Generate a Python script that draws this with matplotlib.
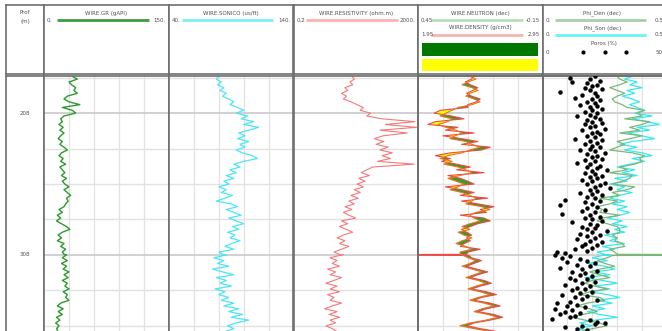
import numpy as np
import matplotlib.pyplot as plt
from matplotlib.ticker import LogLocator

# depth samples (m): every 2 m, denser around the bad-hole spike at 308 m
depth = np.concatenate([np.arange(182, 307, 2), [307.6, 308, 308.4], np.arange(310, 363, 2)])

gr = [34, 40, 30, 33, 38, 36, 40, 28, 24, 30,
      43, 22, 34, 38, 24, 20, 22, 18, 23, 19,
      24, 20, 17, 22, 19, 24, 28, 21, 18, 23,
      20, 26, 19, 22, 25, 21, 27, 22, 25, 30,
      24, 28, 32, 27, 29, 26, 24, 18, 22, 16,
      20, 15, 21, 27, 31, 22, 17, 21, 16, 24,
      20, 26, 22, 24, 27, 26, 22, 28, 21, 27, 23, 30,
      24, 29, 22, 28, 25, 30, 23, 28, 26, 30,
      20, 16, 23, 17, 22, 15, 19, 14, 18, 15,
      17]

dt = [80, 78, 82, 79, 84, 81, 86, 83, 88, 92,
      89, 95, 100, 94, 103, 98, 108, 100, 112, 104,
      96, 101, 95, 104, 97, 101, 94, 99, 107, 111,
      100, 92, 97, 89, 94, 86, 92, 84, 88, 80,
      86, 82, 91, 85, 78, 90, 95, 86, 92, 98,
      88, 94, 100, 91, 96, 87, 93, 89, 97, 90,
      85, 92, 80, 83, 86, 84, 76, 84, 79, 88, 75, 83,
      92, 78, 86, 81, 90, 77, 85, 80, 88, 82,
      92, 84, 96, 88, 99, 90, 104, 94, 87, 92,
      85]

res = [15, 18, 13, 16, 9, 11, 7, 10, 8, 14,
       22, 35, 28, 60, 45, 140, 1600, 180, 1800, 120,
       900, 150, 80, 160, 90, 220, 120, 300, 140, 260,
       100, 1500, 70, 45, 30, 55, 25, 40, 22, 35,
       18, 28, 14, 24, 12, 18, 9, 15, 8, 12,
       20, 7, 11, 6, 10, 16, 8, 5, 9, 6,
       12, 7, 4, 6, 8, 6, 3, 5, 3.5, 6, 2.5, 4.5,
       3, 7, 4, 2.2, 5, 3, 6, 2.5, 4, 3,
       7, 3.5, 2, 5, 2.8, 6, 3, 4.5, 2.2, 3.5,
       5]

nphi = [0.200, 0.171, 0.209, 0.238, 0.190, 0.161, 0.200, 0.219, 0.180, 0.151,
        0.190, 0.257, 0.286, 0.315, 0.344, 0.286, 0.306, 0.354, 0.315, 0.267,
        0.238, 0.271, 0.296, 0.219, 0.190, 0.151, 0.200, 0.238, 0.306, 0.344,
        0.286, 0.325, 0.257, 0.219, 0.190, 0.248, 0.306, 0.267, 0.229, 0.257,
        0.296, 0.238, 0.200, 0.171, 0.190, 0.219, 0.142, 0.103, 0.171, 0.200,
        0.180, 0.151, 0.200, 0.238, 0.200, 0.257, 0.229, 0.190, 0.238, 0.267,
        0.219, 0.190, 0.248, 0.244, 0.238, 0.232, 0.209, 0.171, 0.200, 0.238, 0.190, 0.142,
        0.180, 0.219, 0.161, 0.123, 0.171, 0.209, 0.151, 0.103, 0.161, 0.200,
        0.132, 0.084, 0.142, 0.180, 0.113, 0.065, 0.123, 0.200, 0.248, 0.180,
        0.103]

rhob = [2.40, 2.38, 2.33, 2.37, 2.43, 2.39, 2.34, 2.38, 2.45, 2.42,
        2.35, 2.35, 2.13, 2.08, 2.22, 2.32, 2.09, 2.03, 2.27, 2.17,
        2.40, 2.15, 2.30, 2.43, 2.30, 2.53, 2.46, 2.21, 2.09, 2.21,
        2.14, 2.26, 2.37, 2.26, 2.48, 2.19, 2.29, 2.35, 2.40, 2.17,
        2.30, 2.40, 2.29, 2.51, 2.30, 2.43, 2.56, 2.45, 2.50, 2.29,
        2.48, 2.53, 2.43, 2.37, 2.30, 2.34, 2.38, 2.34, 2.37, 2.32,
        2.29, 2.45, 2.35, 2.34, 1.00, 2.36, 2.38, 2.46, 2.40, 2.34, 2.42, 2.51,
        2.43, 2.37, 2.48, 2.54, 2.45, 2.38, 2.50, 2.58, 2.46, 2.40,
        2.53, 2.61, 2.50, 2.43, 2.56, 2.63, 2.53, 2.40, 2.34, 2.45,
        2.58]

phi_den = [0.30, 0.31, 0.34, 0.31, 0.27, 0.30, 0.33, 0.30, 0.28, 0.29,
           0.32, 0.34, 0.41, 0.38, 0.40, 0.33, 0.43, 0.40, 0.35, 0.39,
           0.31, 0.40, 0.35, 0.30, 0.33, 0.30, 0.27, 0.36, 0.41, 0.39,
           0.40, 0.37, 0.31, 0.34, 0.27, 0.36, 0.35, 0.32, 0.28, 0.37,
           0.34, 0.28, 0.31, 0.23, 0.30, 0.27, 0.22, 0.24, 0.23, 0.31,
           0.24, 0.22, 0.26, 0.30, 0.31, 0.31, 0.28, 0.30, 0.29, 0.32,
           0.33, 0.27, 0.29, 0.30, 1.00, 0.28, 0.26, 0.22, 0.25, 0.29, 0.23, 0.19,
           0.23, 0.27, 0.20, 0.17, 0.21, 0.26, 0.19, 0.15, 0.23, 0.25,
           0.18, 0.14, 0.19, 0.22, 0.16, 0.12, 0.17, 0.23, 0.26, 0.20,
           0.15]

phi_son = [0.36, 0.33, 0.38, 0.35, 0.40, 0.34, 0.37, 0.32, 0.36, 0.39,
           0.35, 0.38, 0.41, 0.37, 0.44, 0.36, 0.42, 0.47, 0.38, 0.43,
           0.34, 0.40, 0.45, 0.36, 0.31, 0.38, 0.33, 0.40, 0.44, 0.36,
           0.41, 0.35, 0.30, 0.37, 0.32, 0.38, 0.29, 0.34, 0.27, 0.33,
           0.30, 0.36, 0.31, 0.27, 0.33, 0.28, 0.34, 0.30, 0.35, 0.31,
           0.26, 0.32, 0.28, 0.34, 0.29, 0.33, 0.25, 0.30, 0.27, 0.33,
           0.24, 0.29, 0.22, 0.25, 0.27, 0.24, 0.20, 0.26, 0.18, 0.25, 0.29, 0.21,
           0.27, 0.17, 0.24, 0.30, 0.21, 0.27, 0.19, 0.26, 0.31, 0.22,
           0.28, 0.20, 0.25, 0.18, 0.23, 0.30, 0.21, 0.15, 0.20, 0.14,
           0.19]

# core-style porosity points (%), one every metre
poros_depth = np.arange(182, 362, 1)
poros = [21, 11, 19, 23, 12, 18, 22, 20, 17, 24,
         19, 7, 21, 16, 22, 13, 20, 23, 18, 21,
         15, 22, 19, 24, 20, 17, 22, 19, 14, 21,
         23, 18, 20, 24, 17, 21, 19, 25, 16, 22,
         20, 23, 18, 21, 13, 24, 19, 22, 17, 20,
         23, 19, 15, 21, 25, 18, 22, 20, 24, 17,
         21, 14, 19, 23, 18, 22, 26, 20, 17, 21,
         24, 19, 22, 16, 20, 25, 18, 23, 21, 27,
         19, 22, 15, 20, 24, 18, 21, 9, 23, 17,
         20, 7, 22, 18, 25, 16, 21, 8, 19, 23,
         17, 20, 24, 12, 19, 22, 16, 21, 18, 26,
         20, 15, 23, 18, 21, 14, 19, 24, 17, 22,
         16, 20, 13, 18, 6, 9, 5, 11, 8, 15,
         18, 10, 21, 14, 19, 7, 16, 22, 12, 17,
         15, 20, 11, 18, 13, 21, 16, 9, 19, 14,
         17, 12, 20, 15, 8, 18, 13, 16, 22, 11,
         6, 14, 10, 17, 5, 12, 9, 15, 7, 13,
         11, 4, 19, 22, 25, 21, 16, 9, 14, 18]

W, H = 662, 331
top_d, bot_d = 181.8, 365.2
edges = [6, 44, 169, 293.5, 418, 542.5, 667]
head_y = (5, 74)
body_y = (76, 336)
txt = '#505050'
fs = 4

fig = plt.figure(figsize=(W / 100, H / 100), dpi=100)


def place(x0, x1, y0, y1):
    return fig.add_axes([x0 / W, 1 - y1 / H, (x1 - x0) / W, (y1 - y0) / H])


def frame(ax):
    for s in ax.spines.values():
        s.set_color('#6e6e6e')
        s.set_linewidth(1.2)
    ax.tick_params(which='both', left=False, bottom=False, top=False,
                   labelleft=False, labelbottom=False, labeltop=False)


def depth_grid(ax):
    for d in np.arange(183, 366, 25):
        major = d in (208, 308)
        ax.axhline(d, color='#cecece' if major else '#e2e2e2',
                   lw=1.3 if major else 1.0, zorder=0)


def lin_grid(ax, lo, hi):
    for f in (0.2, 0.4, 0.6, 0.8):
        ax.axvline(lo + f * (hi - lo), color='#e2e2e2', lw=0.9, zorder=0)


# ---- headers
heads = []
for i in range(6):
    hx = place(edges[i], edges[i + 1], *head_y)
    hx.set_xlim(edges[i], edges[i + 1])
    hx.set_ylim(head_y[1], head_y[0])
    frame(hx)
    heads.append(hx)


def scale_row(hx, i, y, name, left, right, color, lw=2):
    x0, x1 = edges[i], edges[i + 1]
    xm = (x0 + min(x1, W)) / 2
    hx.text(xm, y - 7, name, fontsize=fs, color=txt, ha='center', va='center')
    hx.text(x0 + 3, y, left, fontsize=fs, color=txt, ha='left', va='center')
    hx.text(min(x1, W + 4) - 3, y, right, fontsize=fs, color=txt, ha='right', va='center')
    hx.plot([x0 + 13, min(x1, W + 4) - 20], [y, y], color=color, lw=lw, solid_capstyle='butt')


heads[0].text(25, 12, 'Prof', fontsize=fs, color=txt, ha='center', va='center')
heads[0].text(25, 22, '(m)', fontsize=fs, color=txt, ha='center', va='center')
scale_row(heads[1], 1, 20, 'WIRE.GR (gAPI)', '0.', '150.', '#3c9e3c')
scale_row(heads[2], 2, 20, 'WIRE.SONICO (us/ft)', '40.', '140.', '#7af0f6')
scale_row(heads[3], 3, 20, 'WIRE.RESISTIVITY (ohm.m)', '0.2', '2000.', '#ffb0b0')
scale_row(heads[4], 4, 20, 'WIRE.NEUTRON (dec)', '0.45', '-0.15', '#b8e0b8')
scale_row(heads[4], 4, 35, 'WIRE.DENSITY (g/cm3)', '1.95', '2.95', '#f8b4b4')
heads[4].add_patch(plt.Rectangle((422, 43), 116, 13, color='#007800', lw=0))
heads[4].add_patch(plt.Rectangle((422, 59), 116, 12, color='#ffff00', lw=0))
scale_row(heads[5], 5, 20, 'Phi_Den (dec)', '0.', '0.5', '#a8d0a8')
scale_row(heads[5], 5, 35, 'Phi_Son (dec)', '0.', '0.5', '#6af4f4')
heads[5].text(604, 44, 'Poros (%)', fontsize=fs, color=txt, ha='center', va='center')
heads[5].text(546, 52, '0', fontsize=fs, color=txt, ha='left', va='center')
heads[5].text(663, 52, '50', fontsize=fs, color=txt, ha='right', va='center')
heads[5].plot([583, 605, 626], [52, 52, 52], 'o', color='black', ms=2.0)

# ---- body tracks
axes = []
for i in range(6):
    ax = place(edges[i], edges[i + 1], *body_y)
    ax.set_ylim(bot_d, top_d)
    frame(ax)
    axes.append(ax)

# depth track
ax0 = axes[0]
ax0.set_xlim(0, 1)
for d in (208, 308):
    ax0.text(0.5, d, str(d), fontsize=fs, color=txt, ha='center', va='center')

# gamma ray
ax1 = axes[1]
ax1.set_xlim(0, 150)
lin_grid(ax1, 0, 150)
depth_grid(ax1)
ax1.plot(gr, depth, color='#2f9a2f', lw=1.0)

# sonic
ax2 = axes[2]
ax2.set_xlim(40, 140)
lin_grid(ax2, 40, 140)
depth_grid(ax2)
ax2.plot(dt, depth, color='#4ee6f2', lw=0.9)

# resistivity, log scale
ax3 = axes[3]
ax3.set_xscale('log')
ax3.set_xlim(0.2, 2000)
ax3.xaxis.set_major_locator(LogLocator(base=10, subs=(2.0,)))
ax3.xaxis.set_minor_locator(LogLocator(base=10, subs=np.arange(1, 10)))
ax3.grid(True, which='minor', axis='x', color='#e6e6e6', lw=0.7, zorder=0)
ax3.grid(True, which='major', axis='x', color='#d2d2d2', lw=0.9, zorder=0)
frame(ax3)
depth_grid(ax3)
ax3.plot(res, depth, color='#f47a7a', lw=0.8)

# neutron-density with crossover shading
ax4 = axes[4]
ax4.set_xlim(1.95, 2.95)
lin_grid(ax4, 1.95, 2.95)
depth_grid(ax4)
rho = np.array(rhob)
n_on_rho = 1.95 + (0.45 - np.array(nphi)) / 0.6
ax4.fill_betweenx(depth, rho, n_on_rho, where=rho <= n_on_rho,
                  color='#ffff00', interpolate=True, lw=0, zorder=1)
ax4.fill_betweenx(depth, rho, n_on_rho, where=rho > n_on_rho,
                  color='#3a9e22', interpolate=True, lw=0, zorder=1)
ax4n = ax4.twiny()
ax4n.set_xlim(0.45, -0.15)
ax4n.set_ylim(bot_d, top_d)
frame(ax4n)
ax4n.plot(nphi, depth, color='#e8742c', lw=0.8, zorder=2)
ax4.plot(rhob, depth, color='#f04848', lw=0.8, zorder=2)

# porosity track
ax5 = axes[5]
ax5.set_xlim(0, 0.5)
lin_grid(ax5, 0, 0.5)
depth_grid(ax5)
ax5.plot(phi_son, depth, color='#38e8ee', lw=0.9, zorder=2)
ax5.plot(phi_den, depth, color='#7ab87a', lw=0.9, zorder=3)
ax5p = ax5.twiny()
ax5p.set_xlim(0, 50)
ax5p.set_ylim(bot_d, top_d)
frame(ax5p)
ax5p.plot(poros, poros_depth, 'o', color='black', ms=2.2, zorder=4)

fig.savefig('out.png', dpi=100)
